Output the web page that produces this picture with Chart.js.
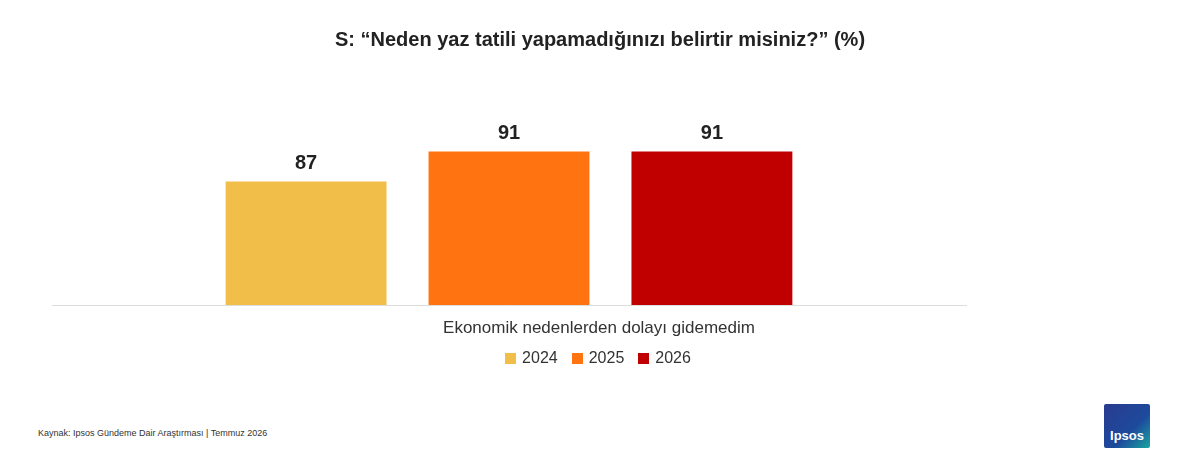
<!DOCTYPE html><html><head><meta charset="utf-8">
<script src="https://cdn.jsdelivr.net/npm/chart.js@4"></script>
<style>body{margin:0;width:1200px;height:462px;background:#fff;font-family:"Liberation Sans",Arial,sans-serif;position:relative;overflow:hidden}
#c{position:absolute;left:0;top:0}
#title{position:absolute;left:0;width:1200px;top:28px;text-align:center;font-size:20px;font-weight:bold;color:#222}
#xl{position:absolute;left:0;width:1198px;top:318px;text-align:center;font-size:17px;color:#333}
#leg{position:absolute;left:0;width:1196px;top:349px;text-align:center;font-size:16px;color:#333}
#leg span{display:inline-block;margin:0 7px}
#leg i{display:inline-block;width:11px;height:11px;margin-right:6px;vertical-align:-1px}
#src{position:absolute;left:38px;top:428px;font-size:9px;color:#333}
#logo{position:absolute;left:1104px;top:404px;width:46px;height:44px;background:linear-gradient(135deg,#2a3b8f,#1d4a9c 60%,#1aa6a0);border-radius:2px;color:#fff;font-weight:bold;font-size:13px;text-align:center;line-height:64px}
</style></head><body>
<canvas id="c" width="1200" height="400"></canvas>
<div id="title">S: “Neden yaz tatili yapamadığınızı belirtir misiniz?” (%)</div>
<div id="xl"></div>
<div id="leg"></div>
<div id="src">Kaynak: Ipsos Gündeme Dair Araştırması | Temmuz 2026</div>
<div id="logo">Ipsos</div>
<script>
const categories=["Ekonomik nedenlerden dolayı gidemedim"];
const years=["2024","2025","2026"];
const values2024=[87];
const values2025=[91];
const values2026=[91];
const colors=["#F2BE4A","#FF7410","#C00000"];
document.getElementById('xl').textContent=categories[0];
document.getElementById('leg').innerHTML=years.map((y,i)=>`<span><i style="background:${colors[i]}"></i>${y}</span>`).join('');
const labelPlugin={id:'lbl',afterDatasetsDraw(ch){const x=ch.ctx;x.save();x.font='bold 20px "Liberation Sans",Arial';x.fillStyle='#222';x.textAlign='center';x.textBaseline='bottom';
ch.data.datasets.forEach((d,i)=>{ch.getDatasetMeta(i).data.forEach((b,j)=>{x.fillText(d.data[j],b.x,b.y-8);});});x.restore();}};
new Chart(document.getElementById('c'),{type:'bar',
data:{labels:categories,datasets:[values2024,values2025,values2026].map((v,i)=>({label:years[i],data:v,backgroundColor:colors[i],categoryPercentage:0.666,barPercentage:0.793}))},
options:{responsive:false,animation:false,devicePixelRatio:1,
layout:{padding:{left:52,right:234,top:84,bottom:87}},
plugins:{legend:{display:false},tooltip:{enabled:false}},
scales:{y:{display:false,min:70.5,max:100},x:{grid:{display:false},border:{color:'#ddd'},ticks:{display:false}}}},
plugins:[labelPlugin]});
</script>
</body></html>
